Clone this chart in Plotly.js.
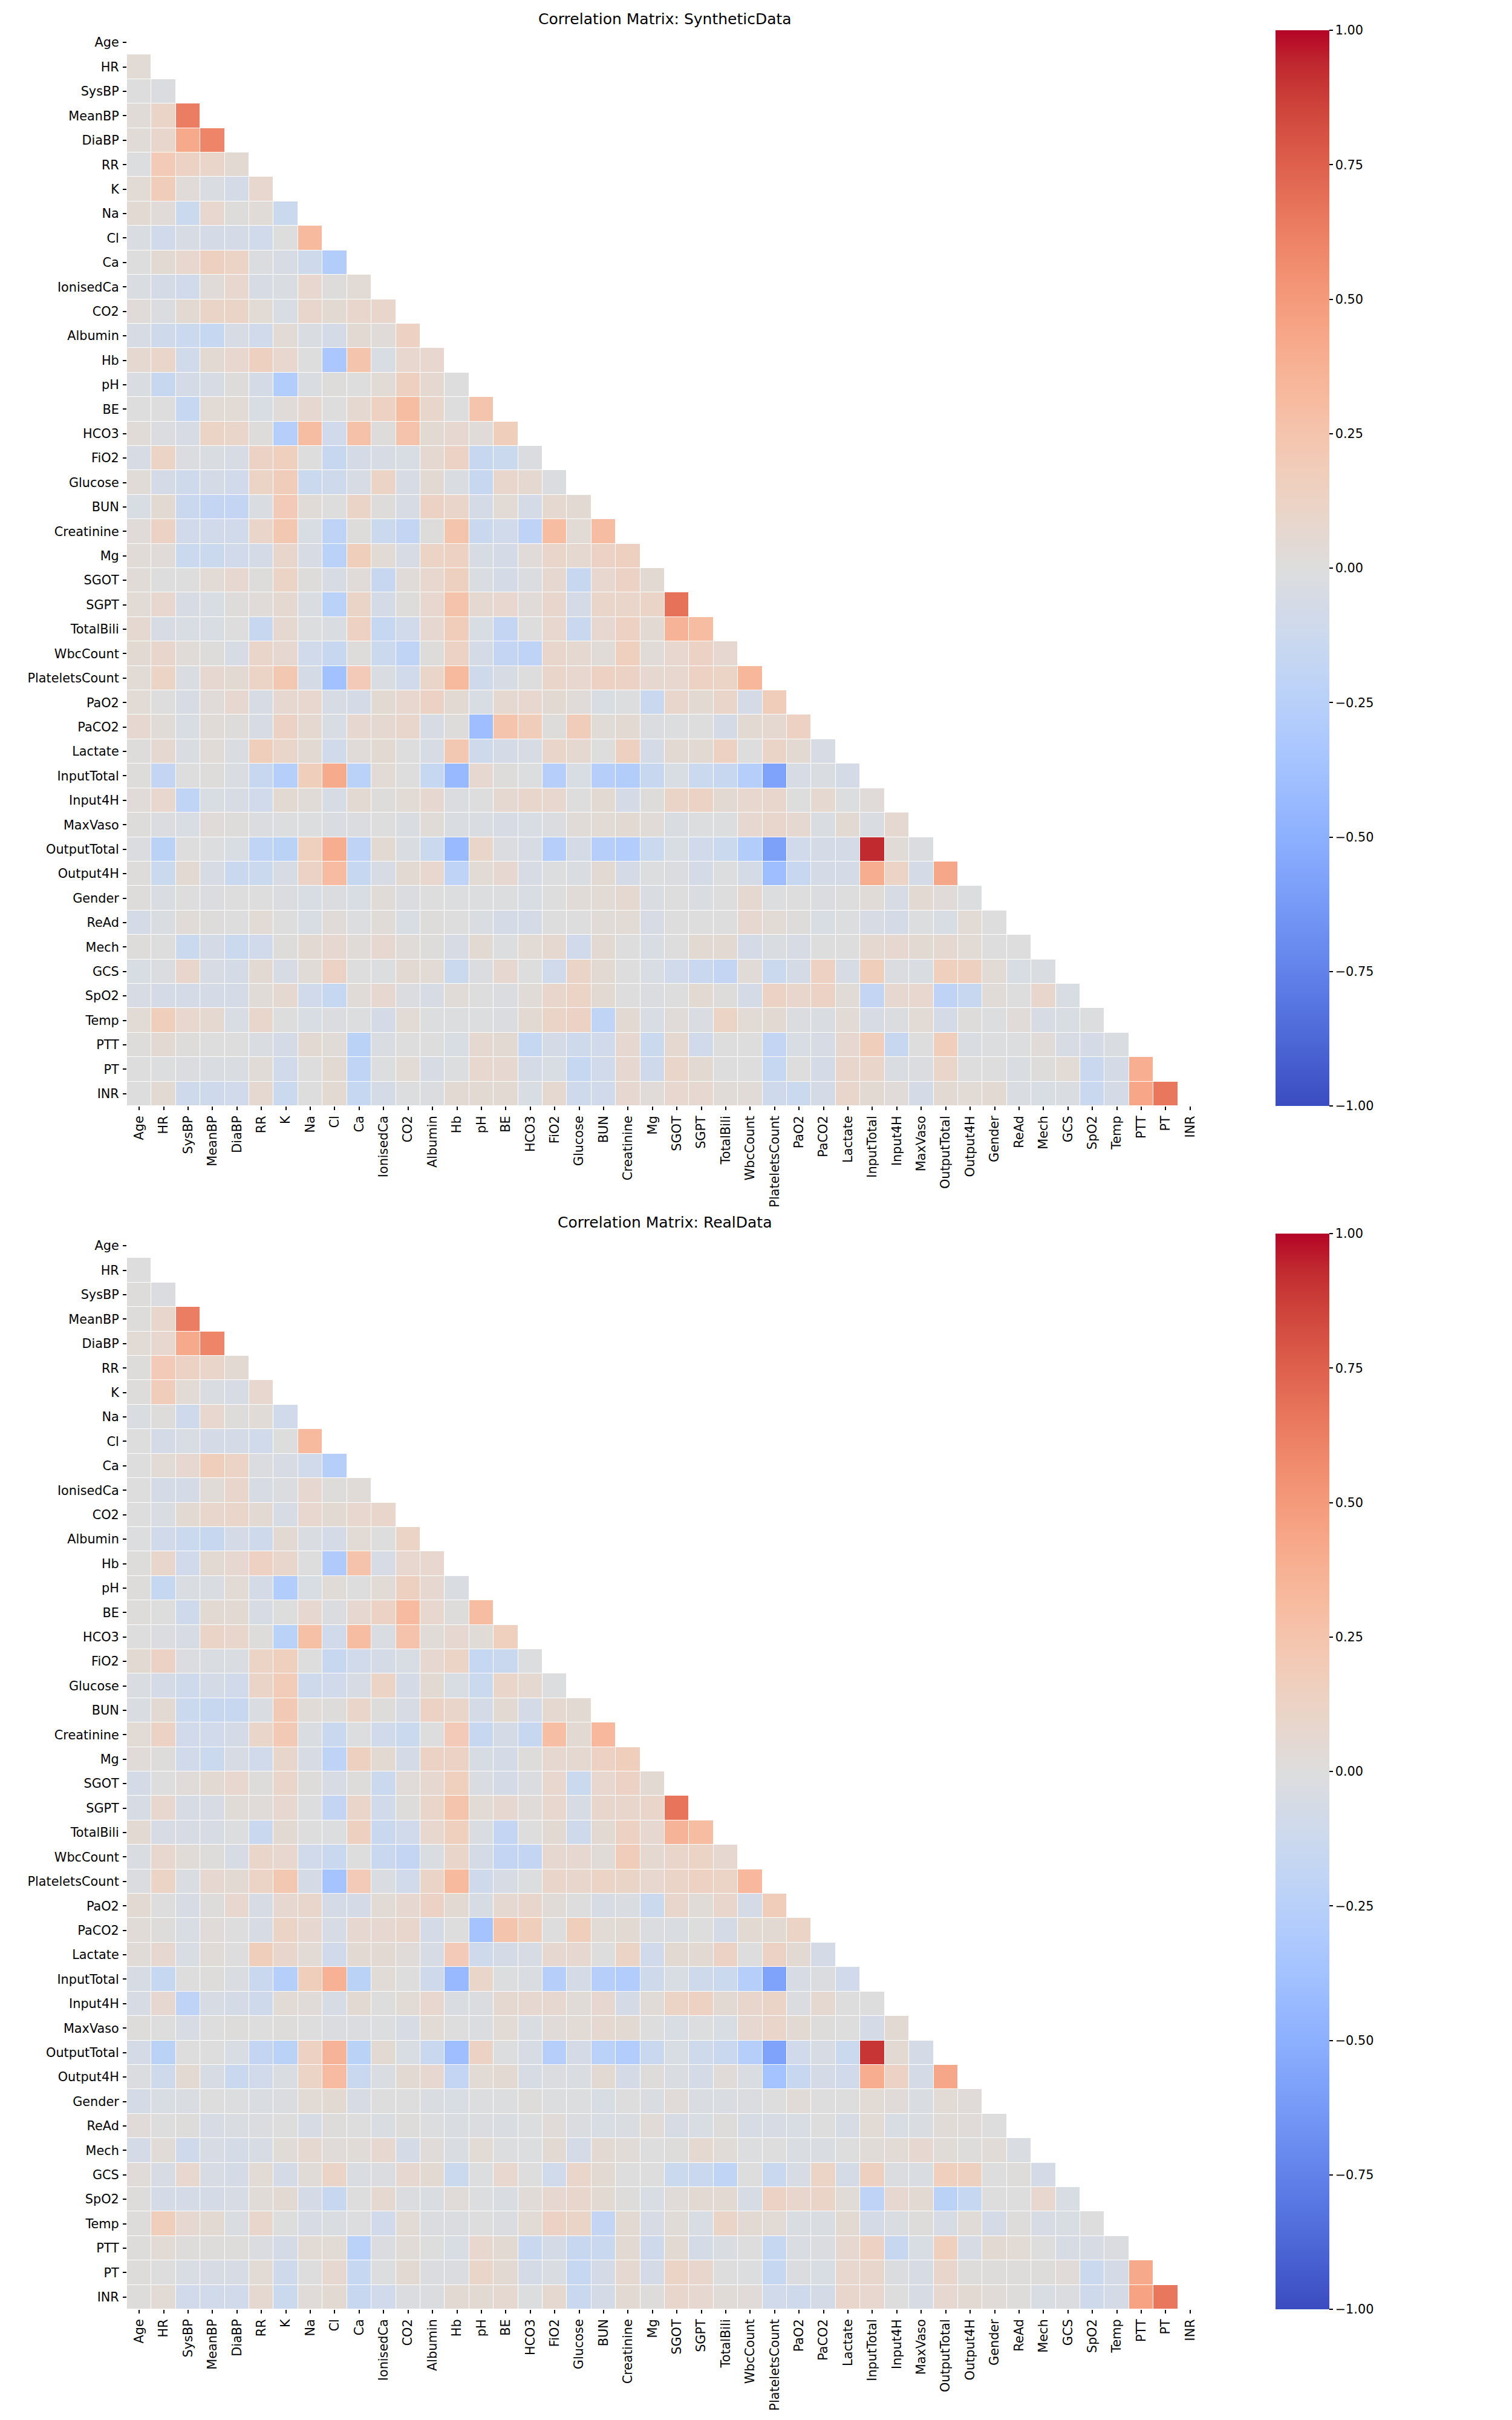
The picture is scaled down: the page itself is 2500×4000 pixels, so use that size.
<!DOCTYPE html>
<html>
<head>
<meta charset="utf-8">
<script src="https://cdn.plot.ly/plotly-3.0.1.min.js"></script>
<style>
html,body{margin:0;padding:0;background:#fff}
</style>
</head>
<body>
<div id="chart" style="width:2500px;height:4000px"></div>
<script>
const labels = ["Age","HR","SysBP","MeanBP","DiaBP","RR","K","Na","Cl","Ca","IonisedCa","CO2","Albumin","Hb","pH","BE","HCO3","FiO2","Glucose","BUN","Creatinine","Mg","SGOT","SGPT","TotalBili","WbcCount","PlateletsCount","PaO2","PaCO2","Lactate","InputTotal","Input4H","MaxVaso","OutputTotal","Output4H","Gender","ReAd","Mech","GCS","SpO2","Temp","PTT","PT","INR"];

const syntheticRows = [
[],
[.04],
[0,-.02],
[.03,.11,.63],
[.03,.09,.42,.6],
[-.01,.2,.13,.1,.05],
[.04,.18,.02,-.03,-.06,.08],
[.05,.02,-.13,.08,.01,.03,-.13],
[-.03,-.09,-.05,-.07,-.07,-.1,0,.32],
[0,.05,.08,.15,.12,-.02,-.05,-.11,-.28],
[-.03,-.07,-.09,.02,.08,-.05,-.03,.08,.01,.04],
[.02,-.02,.05,.11,.11,.04,-.04,.09,.05,.09,.09],
[-.05,-.11,-.13,-.16,-.05,-.1,.04,-.03,-.06,.05,.02,.14],
[.06,.1,-.09,.05,.08,.15,.08,0,-.33,.25,-.04,.08,.08],
[-.03,-.15,-.06,-.05,.01,-.06,-.29,-.03,.01,0,.04,.15,.06,0],
[0,0,-.16,.04,.04,-.04,.02,.07,0,.06,.14,.3,.09,0,.25],
[.03,-.02,-.05,.12,.1,.01,-.26,.3,-.1,.27,.01,.26,.05,.07,.02,.17],
[-.05,.12,-.02,-.03,-.05,.13,.16,0,-.15,-.06,-.05,-.04,.06,.13,-.15,-.13,-.02],
[.03,-.06,-.11,-.06,-.1,.12,.18,-.13,-.11,-.05,.12,-.05,.05,-.03,-.15,.09,.06,-.02],
[-.04,.05,-.14,-.18,-.18,-.03,.2,.03,0,.11,.01,-.05,.13,.1,-.07,.04,-.06,.06,.05],
[.02,.13,-.1,-.09,-.09,.1,.22,-.04,-.21,.01,-.13,-.18,.01,.25,-.14,-.1,-.21,.3,.04,.3],
[.03,.02,-.13,-.13,-.09,-.06,.09,-.05,-.24,.17,.04,-.05,.12,.14,-.05,-.06,.02,.1,.06,.13,.15],
[.03,0,0,.04,.07,.01,.12,.01,-.05,.02,-.15,.02,.08,.15,-.03,-.06,-.02,.07,-.15,.08,.13,.05],
[.04,.08,-.05,-.04,.01,.02,.06,-.03,-.24,.11,-.06,.01,.08,.26,.06,.08,.02,.09,-.06,.1,.1,.11,.68],
[.06,-.05,-.04,-.04,0,-.15,.06,-.01,-.03,.14,-.16,-.1,.07,.18,-.04,-.18,0,.08,-.14,.07,.14,.05,.36,.3],
[.05,.09,.03,.01,-.05,.1,.07,-.1,-.15,.01,-.13,-.2,.01,.13,-.06,-.18,-.21,.09,.06,.03,.16,.03,.08,.13,.07],
[.04,.12,-.03,.07,.05,.12,.22,-.07,-.38,.2,-.03,-.09,.1,.32,-.11,-.05,0,.1,.08,.14,.13,.07,.08,.14,.12,.34],
[.04,0,-.05,.02,.07,-.05,.07,.08,-.05,-.07,.05,.08,.13,.05,-.04,.06,.08,.05,.02,-.04,-.01,-.14,.09,.05,.1,-.06,.18],
[.07,.03,-.04,.03,.01,-.05,.13,.06,-.04,.07,.06,.09,-.05,.01,-.4,.25,.18,.01,.18,.03,.05,-.02,-.01,0,-.06,.05,.06,.14],
[.01,.06,-.03,.03,-.03,.17,.1,.05,-.09,.02,.05,0,-.05,.22,-.11,-.07,-.05,.1,.06,0,.15,-.07,.05,.05,.14,0,.11,.05,-.05],
[.01,-.18,0,.01,-.03,-.15,-.26,.17,.41,-.24,.04,0,-.16,-.44,.07,.01,-.01,-.26,-.04,-.27,-.28,-.15,-.04,-.13,-.15,-.27,-.58,-.05,-.03,-.06],
[.02,.08,-.2,-.04,-.05,-.1,.05,.03,-.05,.05,.01,.04,.07,-.02,0,.06,.09,.08,0,.05,-.07,.01,.11,.13,.05,.08,.09,0,.06,-.01,.02],
[.01,-.02,-.04,.02,.01,-.02,-.01,-.01,-.03,-.02,0,-.03,.03,-.03,-.03,-.05,-.04,-.02,.03,.04,.05,.03,-.03,-.01,-.01,.07,.09,.06,-.03,.05,-.03,.06],
[-.02,-.23,0,-.01,-.04,-.2,-.23,.16,.4,-.21,.05,-.03,-.13,-.43,.1,-.02,-.05,-.26,-.06,-.26,-.29,-.13,-.04,-.09,-.13,-.28,-.59,-.09,-.06,-.07,.93,.03,-.02],
[.01,-.13,.05,-.05,-.14,-.13,-.05,.13,.31,-.16,-.05,.05,.08,-.21,.04,.07,-.05,-.01,-.03,.05,-.07,-.01,-.02,-.06,-.01,-.06,-.4,-.15,-.06,-.07,.4,.12,-.06,.43],
[.01,-.03,0,-.02,0,0,-.02,-.04,-.02,-.04,.03,-.02,0,-.01,-.01,-.01,-.04,0,.03,.04,.06,-.03,0,-.03,0,.06,-.01,0,-.02,0,.03,-.05,.05,.02,-.01],
[-.07,-.03,.03,.01,0,.04,0,-.04,.02,-.01,.03,-.04,.01,0,-.03,-.06,-.06,0,0,.03,.04,-.05,0,0,0,.07,.04,.01,-.04,-.01,-.05,-.07,-.01,-.04,.04,0],
[.01,0,-.13,-.06,-.13,-.09,.01,.05,.07,.03,.07,.02,.01,-.05,.05,-.01,.04,.06,-.09,.05,0,-.04,0,.05,.05,-.06,-.03,-.05,0,0,.06,.07,.05,.06,.04,0,0],
[-.04,-.02,.09,-.05,-.06,.05,-.05,.03,.13,0,-.01,.05,.04,-.13,-.02,.07,0,-.1,.11,.05,0,-.04,-.1,-.14,-.18,.03,-.13,-.07,.14,-.05,.17,-.02,-.03,.16,.15,.04,-.04,-.03],
[-.05,-.06,-.06,-.07,-.06,.03,.06,-.09,-.16,.03,.07,-.02,-.05,.03,0,-.02,.03,.09,.12,.05,0,-.02,0,.05,.01,-.06,.13,.09,.13,.03,-.18,.07,.08,-.21,-.15,.03,0,.09,-.04],
[.04,.17,.08,.06,-.04,.09,0,-.04,-.02,-.01,-.06,.04,-.01,-.01,-.01,-.02,.05,.11,.13,-.2,.05,-.04,.02,-.03,.12,.04,.05,-.02,-.03,.04,-.05,-.02,.04,-.06,.01,-.01,.02,-.05,-.04,-.01],
[.01,.05,.01,0,0,-.03,-.06,.05,.03,-.23,-.03,0,0,-.04,.06,.05,-.16,-.06,-.11,-.09,.07,-.13,.06,-.09,0,0,-.18,-.04,-.05,.07,.17,-.15,0,.17,-.03,-.01,-.01,.02,-.05,-.06,-.03],
[0,-.01,-.02,-.03,-.03,.03,-.1,0,.05,-.2,-.01,.04,-.05,-.01,.08,.07,-.07,-.04,-.16,-.09,.07,-.11,.1,.05,0,0,-.16,0,-.07,.09,.1,-.03,-.02,.1,0,0,-.03,.01,.04,-.14,-.07,.39],
[0,.05,-.11,-.11,-.1,.06,-.13,0,.05,-.16,-.07,-.01,-.02,.05,.05,.05,-.04,.06,-.11,-.09,.07,.02,.08,.07,.03,.03,-.11,-.13,-.06,.09,.05,.02,-.06,.05,.04,.05,-.03,-.04,-.03,-.14,-.06,.44,.66]
];

const realRows = [
[],
[0],
[.01,-.02],
[.01,.09,.63],
[.04,.08,.42,.6],
[.01,.2,.13,.1,.05],
[.01,.18,.04,-.03,-.05,.08],
[-.03,.01,-.11,.08,.01,.03,-.1],
[0,-.07,-.04,-.07,-.06,-.09,0,.32],
[0,.04,.07,.17,.12,-.02,-.05,-.09,-.26],
[0,-.07,-.07,.03,.09,-.05,-.02,.07,.01,.03],
[0,-.03,.05,.09,.1,.05,-.05,.08,.05,.08,.09],
[-.01,-.09,-.13,-.15,-.06,-.11,.05,-.03,-.06,.04,0,.12],
[.01,.09,-.09,.05,.07,.14,.09,0,-.3,.26,-.05,.08,.08],
[.01,-.16,-.03,-.03,.04,-.07,-.29,-.04,.03,0,.04,.15,.07,-.03],
[.01,0,-.11,.05,.05,-.05,0,.07,-.02,.07,.13,.31,.08,.01,.3],
[0,-.02,-.05,.11,.09,.01,-.24,.28,-.09,.3,-.03,.26,.03,.07,.03,.16],
[.05,.13,-.02,-.03,-.03,.12,.16,0,-.15,-.1,-.06,-.04,.07,.12,-.16,-.14,-.01],
[-.03,-.06,-.11,-.06,-.09,.11,.19,-.11,-.1,-.05,.12,-.06,.05,-.04,-.13,.1,.06,-.01],
[-.03,.05,-.13,-.15,-.15,-.03,.21,.03,.01,.1,.01,-.05,.13,.1,-.07,.05,-.06,.06,.05],
[.04,.13,-.1,-.09,-.07,.1,.21,-.03,-.14,-.01,-.1,-.13,0,.2,-.15,-.07,-.15,.29,.05,.33],
[.02,.01,-.1,-.13,-.05,-.09,.09,-.05,-.21,.15,.05,-.06,.13,.13,-.05,-.06,.01,.07,.06,.14,.17],
[-.06,0,.02,.05,.08,.01,.1,.01,-.05,.01,-.13,.02,.07,.16,-.03,-.06,-.02,.08,-.13,.08,.13,.05],
[-.05,.08,-.05,-.05,.03,.02,.07,-.01,-.18,.1,-.09,.01,.1,.25,.04,.07,.02,.08,-.05,.09,.09,.1,.67],
[.05,-.05,-.05,-.05,-.01,-.14,.05,0,-.01,.15,-.14,-.09,.08,.16,-.03,-.18,0,.05,-.11,.05,.14,.07,.36,.3],
[-.03,.08,.03,.01,-.05,.1,.08,-.09,-.14,0,-.14,-.18,-.03,.1,-.07,-.18,-.18,.07,.07,.03,.18,.06,.1,.12,.07],
[-.02,.12,-.03,.07,.05,.12,.22,-.06,-.37,.2,-.03,-.09,.11,.32,-.11,-.05,-.01,.1,.09,.12,.11,.08,.11,.14,.12,.33],
[.05,0,-.05,.01,.08,-.05,.07,.09,-.06,-.07,.04,.07,.13,.05,-.05,.06,.09,.03,0,-.05,-.03,-.13,.09,.03,.09,-.06,.18],
[.03,.01,-.04,.02,0,-.05,.12,.07,-.05,.07,.07,.09,-.06,0,-.37,.25,.17,0,.17,.04,.05,-.02,-.03,0,-.06,.05,.05,.12],
[.03,.07,-.04,.03,0,.17,.09,.04,-.09,.05,.05,.02,-.05,.2,-.11,-.06,-.05,.07,.07,0,.12,-.1,.05,.05,.13,0,.13,.05,-.06],
[-.05,-.16,0,.01,-.03,-.14,-.26,.17,.37,-.23,.03,0,-.11,-.44,.1,-.01,-.03,-.26,-.06,-.26,-.29,-.11,-.04,-.11,-.13,-.27,-.58,-.05,-.02,-.1],
[-.05,.07,-.21,-.05,-.06,-.11,.04,.02,-.05,.05,0,.04,.08,-.03,-.02,.06,.07,.07,.03,.07,-.07,.03,.12,.14,.05,.09,.11,-.02,.06,0,0],
[.01,0,-.05,0,.01,0,.01,0,-.02,-.02,-.01,-.05,.04,0,-.02,.04,-.03,.02,.04,.06,.05,0,-.04,-.01,-.04,.07,.1,.05,.01,0,-.06,.05],
[-.07,-.23,0,0,-.04,-.18,-.23,.14,.36,-.23,.05,-.04,-.14,-.4,.13,-.01,-.05,-.26,-.06,-.24,-.29,-.14,-.04,-.11,-.14,-.26,-.58,-.1,-.05,-.13,.9,.05,-.07],
[-.02,-.11,.05,-.05,-.14,-.1,-.03,.12,.31,-.14,-.03,.05,.07,-.18,.04,.05,-.05,-.02,-.03,.05,-.07,.01,-.03,-.06,.02,-.03,-.37,-.15,-.07,-.1,.4,.13,-.07,.43],
[-.06,-.04,-.03,0,-.01,-.03,-.02,.04,.05,-.05,0,0,-.03,-.04,-.01,-.01,.01,-.01,-.01,-.04,0,-.03,.02,-.03,-.03,-.02,0,.03,0,0,.04,.02,-.03,.04,.02],
[.02,0,.01,-.05,-.03,-.02,0,-.05,.01,0,-.03,.01,-.01,-.03,-.02,-.03,-.01,.02,-.02,-.04,-.03,.03,-.05,-.04,.01,-.05,-.05,-.04,0,-.05,.04,-.04,-.03,.03,.02,0],
[-.07,.03,-.11,-.05,-.06,-.05,.03,.06,.02,.03,.07,-.06,.02,-.03,.04,-.01,-.01,.05,-.06,.05,.03,0,.01,.06,.03,-.01,0,-.03,-.03,0,.03,.04,.07,.03,.01,.03,-.03],
[.02,-.05,.08,-.05,-.06,.04,-.06,.03,.11,-.03,-.02,.07,.05,-.13,-.01,.08,0,-.09,.1,.05,0,0,-.13,-.14,-.2,0,-.14,-.05,.12,-.07,.15,-.02,-.03,.16,.15,0,.01,-.06],
[.01,-.07,-.06,-.06,-.05,.03,.05,-.07,-.15,0,.06,-.02,-.03,.02,-.01,-.03,.03,.07,.09,.05,.01,-.04,.02,.05,.05,-.05,.13,.09,.11,.03,-.21,.07,.05,-.23,-.16,0,0,.08,-.04],
[.01,.17,.07,.05,-.03,.09,0,-.05,-.03,-.01,-.09,.04,-.02,-.02,0,-.02,.04,.13,.11,-.18,.05,-.05,.03,-.04,.11,.05,.04,-.03,-.03,.05,-.06,-.03,.01,-.05,.03,-.06,.01,-.05,-.04,0],
[.01,.04,.01,.01,.01,-.02,-.06,.04,.04,-.24,-.02,.03,0,-.04,.08,.05,-.14,-.06,-.15,-.14,.05,-.11,.05,-.07,-.03,0,-.16,-.03,-.02,.07,.14,-.15,-.04,.16,-.05,.05,.04,0,-.05,-.05,-.02],
[.01,0,-.04,-.05,-.05,.04,-.11,0,.07,-.16,-.01,.05,-.02,-.02,.1,.05,-.06,-.03,-.16,-.06,.06,-.07,.12,.09,0,-.01,-.16,-.02,-.04,.08,.09,-.02,-.05,.09,.01,.01,.01,.01,.02,-.13,-.06,.42],
[.01,.04,-.1,-.1,-.1,.06,-.13,.02,.05,-.15,-.09,-.02,-.02,.05,.05,.06,-.01,.06,-.14,-.07,.05,.01,.09,.07,.03,.02,-.1,-.11,-.06,.09,.08,0,-.05,.07,.05,.03,.01,-.04,-.02,-.11,-.06,.46,.66]
];

const titles = ["Correlation Matrix: SyntheticData","Correlation Matrix: RealData"];
const colorbarTicks = [-1,-0.75,-0.5,-0.25,0,0.25,0.5,0.75,1];

const coolwarm = [[59,76,192],[68,90,204],[77,104,215],[87,117,225],[98,130,234],[108,142,241],[119,154,247],[130,165,251],[141,176,254],[152,185,255],[163,194,255],[174,201,253],[184,208,249],[194,213,244],[204,217,238],[213,219,230],[221,221,221],[229,216,209],[236,211,197],[241,204,185],[245,196,173],[247,187,160],[247,177,148],[247,166,135],[244,154,123],[241,141,111],[236,127,99],[229,112,88],[222,96,77],[213,80,66],[203,62,56],[192,40,47],[180,4,38]];
const colorscale = coolwarm.map((c,i)=>[i/32,`rgb(${c[0]},${c[1]},${c[2]})`]);

const W=2500,H=4000,FONT='"DejaVu Sans", sans-serif',FS=20.8,INK='#000000';
const panels=[{top:50,bottom:1828,rows:syntheticRows},{top:2039,bottom:3817,rows:realRows}];
const LEFT=210,RIGHT=1988,CB_X=2109,CB_W=89;

function toMatrix(rows){return labels.map((_,i)=>labels.map((_,j)=>(i<rows.length&&j<rows[i].length)?rows[i][j]:null));}

const data=panels.map((p,k)=>({
  type:'heatmap',x:labels,y:labels,z:toMatrix(p.rows),
  xaxis:k?'x2':'x',yaxis:k?'y2':'y',
  zmin:-1,zmax:1,colorscale,xgap:1,ygap:1,hoverongaps:false,
  colorbar:{x:CB_X/W,xanchor:'left',xpad:0,ypad:0,thickness:CB_W,thicknessmode:'pixels',
    y:1-(p.top+p.bottom)/2/H,yanchor:'middle',len:(p.bottom-p.top)/H,lenmode:'fraction',
    outlinewidth:0,borderwidth:0,tickmode:'array',tickvals:colorbarTicks,
    ticktext:colorbarTicks.map(v=>(v<0?'\u2212':'')+Math.abs(v).toFixed(2)),
    ticks:'outside',ticklen:6,tickwidth:1.5,tickcolor:INK,
    tickfont:{family:FONT,size:FS,color:INK}}
}));

function xax(k,p){return {domain:[LEFT/W,RIGHT/W],anchor:k?'y2':'y',type:'category',tickmode:'array',tickvals:labels,ticktext:labels,tickangle:-90,
  ticks:'outside',ticklen:6,tickwidth:1.5,tickcolor:INK,ticklabelstandoff:1,showgrid:false,zeroline:false,showline:false,automargin:false,
  tickfont:{family:FONT,size:FS,color:INK}};}
function yax(k,p){return {domain:[1-p.bottom/H,1-p.top/H],anchor:k?'x2':'x',type:'category',autorange:'reversed',tickmode:'array',tickvals:labels,ticktext:labels,
  ticks:'outside',ticklen:6,tickwidth:1.5,tickcolor:INK,ticklabelstandoff:2,showgrid:false,zeroline:false,showline:false,automargin:false,
  tickfont:{family:FONT,size:FS,color:INK}};}

const layout={width:W,height:H,margin:{l:0,r:0,t:0,b:0,autoexpand:false},paper_bgcolor:'#fff',plot_bgcolor:'#fff',
  font:{family:FONT,size:FS,color:INK},
  xaxis:xax(0,panels[0]),yaxis:yax(0,panels[0]),xaxis2:xax(1,panels[1]),yaxis2:yax(1,panels[1]),
  annotations:panels.map((p,k)=>({xref:'paper',yref:'paper',x:(LEFT+RIGHT)/2/W,y:1-(p.top-3)/H,xanchor:'center',yanchor:'bottom',
    text:titles[k],showarrow:false,font:{family:FONT,size:25,color:INK},borderpad:0}))};

Plotly.newPlot('chart',data,layout,{displayModeBar:false,responsive:false});
</script>
</body>
</html>
